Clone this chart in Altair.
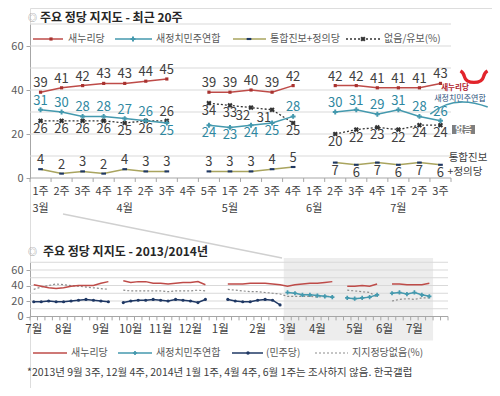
import altair as alt
import pandas as pd

# ---------------- data: recent 20 weeks (2014) ----------------
weeks_top = ["3월 1주", "3월 2주", "3월 3주", "3월 4주",
             "4월 1주", "4월 2주", "4월 3주", "4월 4주", "4월 5주",
             "5월 1주", "5월 2주", "5월 3주", "5월 4주",
             "6월 1주", "6월 2주", "6월 3주", "6월 4주",
             "7월 1주", "7월 2주", "7월 3주"]
saenuri = [39, 41, 42, 43, 43, 44, 45, None, 39, 39, 40, 39, 42, None, 42, 42, 41, 41, 41, 43]
npad = [31, 30, 28, 28, 27, 26, 25, None, 24, 23, 24, 25, 28, None, 30, 31, 29, 31, 28, 26]
progressive = [4, 2, 3, 2, 4, 3, 3, None, 3, 3, 3, 4, 5, None, 7, 6, 7, 6, 7, 6]
undecided = [26, 26, 26, 26, 25, 26, 26, None, 34, 33, 32, 31, 25, None, 20, 22, 23, 22, 24, 24]

# which value labels sit on the other side of their point (by week index)
npad_label_below = [6, 8, 9, 10, 11]
undecided_label_above = [6]
undecided_label_left = [10, 11]
progressive_label_below = [14, 15, 16, 17, 18, 19]

# ---------------- data: 2013/2014 weekly (Jul 2013 - Feb 2014) ----------------
months_long = ["7월", "8월", "9월", "10월", "11월", "12월", "1월", "2월", "3월", "4월", "5월", "6월", "7월"]
weeks_in_month = [4, 5, 4, 4, 4, 4, 5, 4, 4, 5, 4, 4, 3]
extra_weeks = 2
saenuri_early = [41, 39, 37, 36, 37, 39, 40, 40, 40, 43, 45, None,
                 46, 44, 45, 45, 43, 43, 42, 43, 44, 44, 45, 41, None, None,
                 42, 42, 42, 43, 43, 43, 42, 41]
minjoo_early = [19, 19, 20, 19, 19, 20, 21, 22, 21, 20, 19, None,
                18, 20, 21, 21, 22, 21, 20, 22, 21, 20, 18, 22, None, None,
                22, 20, 19, 19, 21, 22, 21, 15]
undecided_early = [35, 38, 40, 42, 41, 40, 39, 38, 37, 36, 35, None,
                   34, 33, 33, 33, 33, 33, 32, 33, 33, 33, 34, 33, None, None,
                   35, 34, 33, 32, 32, 31, 30, 29]

grid_values = [10, 20, 30, 40, 50, 60, 70]
axis_label_values = [0, 20, 40, 60]

FONT = "Noto Sans CJK KR"
RED = "#BE4B48"
RED_DOT = "#A8322F"
TEAL = "#4499AE"
TEAL_TXT = "#2E87A0"
NAVY = "#1F3864"
OLIVE = "#A9A45E"
DARK = "#404040"
GRID = "#D9D9D9"
AXC = "#A6A6A6"
LEG = "#595959"

one = pd.DataFrame({"k": [0]})


def series_df(values):
    rows, seg = [], 0
    for i, v in enumerate(values):
        if v is None:
            seg += 1
            continue
        rows.append({"i": i, "v": v, "seg": seg})
    return pd.DataFrame(rows)


def txt(x, y, text, size=10, color=LEG, align="left", weight="normal", baseline="middle"):
    return alt.Chart(one).mark_text(text=text, fontSize=size, color=color, align=align,
                                    fontWeight=weight, baseline=baseline, font=FONT).encode(
        x=alt.value(x), y=alt.value(y))


def hline(x0, x1, y, color, width=1.5, dash=None):
    kw = dict(color=color, strokeWidth=width)
    if dash:
        kw["strokeDash"] = dash
    return alt.Chart(one).mark_rule(**kw).encode(x=alt.value(x0), x2=alt.value(x1), y=alt.value(y))


def marker(x, y, color, shape, size, angle=0, filled=True, width=1):
    return alt.Chart(one).mark_point(shape=shape, size=size, color=color, filled=filled,
                                     angle=angle, opacity=1, strokeWidth=width).encode(
        x=alt.value(x), y=alt.value(y))


BAR = "M-1,-0.45L1,-0.45L1,0.45L-1,0.45Z"

XT = alt.Scale(domain=[-0.5, 19.5], range=[0, 421], nice=False, zero=False)
YT = alt.Scale(domain=[0, 70], range=[170, 16], nice=False, zero=False)
YB = alt.Scale(domain=[0, 70], range=[308.5, 254.25], nice=False, zero=False)


def X(f, sc):
    return alt.X(f"{f}:Q", scale=sc, axis=None)


def Y(f, sc):
    return alt.Y(f"{f}:Q", scale=sc, axis=None)


def yaxis_grid(ysc, xsc, x0, x1):
    df = pd.DataFrame({"g": grid_values, "x0": x0, "x1": x1})
    return alt.Chart(df).mark_rule(color=GRID, strokeWidth=1).encode(
        y=alt.Y("g:Q", scale=ysc, axis=alt.Axis(values=axis_label_values, orient="left", grid=False,
                                                domainColor=AXC, tickColor=AXC, tickSize=4,
                                                labelColor=LEG, labelFontSize=11, labelFont=FONT,
                                                labelPadding=3, title=None)),
        x=X("x0", xsc), x2="x1:Q")


layers = []

# ============================ TOP PANEL ============================
layers.append(yaxis_grid(YT, XT, -0.5, 19.5))
layers.append(alt.Chart(pd.DataFrame({"x0": [-0.5], "x1": [19.5], "y0": [0]})).mark_rule(color=AXC).encode(
    x=X("x0", XT), x2="x1:Q", y=Y("y0", YT)))
layers.append(alt.Chart(pd.DataFrame({"t": [k - 0.5 for k in range(21)], "y0": 0.0, "y1": -1.8})).mark_rule(
    color=AXC).encode(x=X("t", XT), y=Y("y0", YT), y2="y1:Q"))

wk_top = pd.DataFrame({"i": range(len(weeks_top)),
                       "m": [w.split(" ")[0] for w in weeks_top],
                       "w": [w.split(" ")[1] for w in weeks_top]})
layers.append(alt.Chart(wk_top).mark_text(fontSize=11, color=DARK, font=FONT).encode(
    x=X("i", XT), y=alt.value(184), text="w:N"))
layers.append(alt.Chart(wk_top[wk_top["w"] == "1주"]).mark_text(fontSize=11, color=DARK, font=FONT).encode(
    x=X("i", XT), y=alt.value(201), text="m:N"))

d_sae = series_df(saenuri)
d_np = series_df(npad)
d_pr = series_df(progressive)
d_un = series_df(undecided)


def xt():
    return X("i", XT)


def yt():
    return Y("v", YT)


layers += [
    alt.Chart(d_pr).mark_line(color=OLIVE, strokeWidth=1.5).encode(x=xt(), y=yt(), detail="seg:N"),
    alt.Chart(d_pr).mark_point(shape=BAR, size=22, filled=True, color=NAVY, opacity=1).encode(x=xt(), y=yt()),
    alt.Chart(d_un).mark_line(color="#333333", strokeWidth=1.3, strokeDash=[2, 2]).encode(x=xt(), y=yt(), detail="seg:N"),
    alt.Chart(d_un).mark_point(shape="cross", angle=45, size=28, filled=True, color="#333333", opacity=1).encode(x=xt(), y=yt()),
    alt.Chart(d_np).mark_line(color=TEAL, strokeWidth=1.5).encode(x=xt(), y=yt(), detail="seg:N"),
    alt.Chart(d_np).mark_point(shape="cross", size=24, filled=True, color=TEAL, opacity=1).encode(x=xt(), y=yt()),
    alt.Chart(d_sae).mark_line(color=RED, strokeWidth=1.5).encode(x=xt(), y=yt(), detail="seg:N"),
    alt.Chart(d_sae).mark_point(shape="square", size=10, filled=True, color=RED_DOT, opacity=1).encode(x=xt(), y=yt()),
]

d_sae["above"] = True
d_np["above"] = [i not in npad_label_below for i in d_np["i"]]
d_un["above"] = [i in undecided_label_above for i in d_un["i"]]
d_pr["above"] = [i not in progressive_label_below for i in d_pr["i"]]
for d in (d_sae, d_np, d_pr):
    d["left"] = False
d_un["left"] = [i in undecided_label_left for i in d_un["i"]]


def labels(df, color):
    out = []
    for above in (True, False):
        for left in (False, True):
            sub = df[(df["above"] == above) & (df["left"] == left)]
            if not len(sub):
                continue
            kw = dict(baseline="alphabetic", dy=-5) if above else dict(baseline="top", dy=2)
            out.append(alt.Chart(sub).mark_text(fontSize=13, color=color, font=FONT, dx=-8 if left else 0, **kw).encode(
                x=xt(), y=yt(), text="v:Q"))
    return out


layers += labels(d_sae, DARK) + labels(d_np, TEAL_TXT) + labels(d_un, DARK) + labels(d_pr, DARK)

# title
layers += [txt(-2, 9.5, "◎", size=9, color="#7F7F7F"),
           txt(10, 9.5, "주요 정당 지지도 - 최근 20주", size=12, color="#262626", weight="bold")]

# legend (inside plot, between the 60 and 70 grid lines)
LY = 31
layers += [
    hline(3, 33, LY, RED), marker(21, LY, RED_DOT, "square", 10), txt(38, LY, "새누리당"),
    hline(85, 122, LY, TEAL), marker(103, LY, TEAL, "cross", 24), txt(126, LY, "새정치민주연합"),
    hline(203, 236, LY, OLIVE), marker(219, LY, NAVY, BAR, 22), txt(240, LY, "통합진보+정의당"),
    hline(316, 350, LY, "#333333", 1.3, [2, 2]), marker(333, LY, "#333333", "cross", 28, angle=45),
    txt(354, LY, "없음/유보(%)"),
]

# right side annotations
LOGO = "M-1,-0.45 Q-0.75,-0.3 -0.7,0 Q-0.6,0.4 0,0.4 Q0.6,0.4 0.7,0 Q0.75,-0.3 1,-0.45"
ARC = "M-1,0.25 Q-0.2,-0.45 1,0"
layers += [
    marker(444, 69, "#E2242B", LOGO, 730, filled=False, width=3.2),
    txt(425, 80, "새누리당", size=7.5, color="#B0202A", align="center", weight="bold"),
    txt(430, 90.5, "새정치민주연합", size=8, color="#1F4E79", align="center"),
    marker(429, 99, TEAL, ARC, 3300, filled=False, width=1.5),
    alt.Chart(one).mark_rect(color="#7F7F7F").encode(x=alt.value(422), x2=alt.value(445),
                                                      y=alt.value(117), y2=alt.value(126)),
    txt(433.5, 121.5, "없음", size=9, color="white", align="center", weight="bold"),
    txt(438, 149.5, "통합진보", size=10.5, color=DARK, align="center"),
    txt(435, 163.5, "+정의당", size=10.5, color=DARK, align="center"),
]

# ============================ BOTTOM PANEL ============================
wk_rows, idx = [], 0
for m, n in zip(months_long, weeks_in_month):
    for w in range(1, n + 1):
        wk_rows.append({"i": idx, "m": m, "w": w})
        idx += 1
wk_long = pd.DataFrame(wk_rows)
n_weeks = idx + extra_weeks

XB = alt.Scale(domain=[-0.5, n_weeks - 0.5], range=[0, 418], nice=False, zero=False)


def xb():
    return X("i", XB)


def yb():
    return Y("v", YB)


n_early = len(saenuri_early)
b_sae = series_df(saenuri_early + saenuri)
b_np = series_df([None] * n_early + npad)
b_mj = series_df(minjoo_early + [None] * len(weeks_top))
b_un = series_df(undecided_early + undecided)

mar_start = int(wk_long[(wk_long["m"] == "3월") & (wk_long["w"] == 1)]["i"].iloc[0])
last_i = idx - 1

layers.append(alt.Chart(pd.DataFrame({"x0": [mar_start - 0.5], "x1": [last_i + 0.5],
                                      "y0": [75.5], "y1": [-31.0]})).mark_rect(color="#EDEDED").encode(
    x=X("x0", XB), x2="x1:Q", y=Y("y0", YB), y2="y1:Q"))
layers.append(yaxis_grid(YB, XB, -0.5, n_weeks - 0.5))
layers.append(alt.Chart(pd.DataFrame({"x0": [-0.5], "x1": [n_weeks - 0.5], "y0": [0]})).mark_rule(color=AXC).encode(
    x=X("x0", XB), x2="x1:Q", y=Y("y0", YB)))
layers.append(alt.Chart(pd.DataFrame({"t": [k - 0.5 for k in range(n_weeks + 1)], "y0": 0.0, "y1": -5.0})).mark_rule(
    color=AXC).encode(x=X("t", XB), y=Y("y0", YB), y2="y1:Q"))
layers.append(alt.Chart(wk_long[wk_long["w"] == 1]).mark_text(fontSize=11.5, color=DARK, font=FONT).encode(
    x=xb(), y=alt.value(322), text="m:N"))

layers += [
    alt.Chart(b_un).mark_line(color="#8C8C8C", strokeWidth=1.2, strokeDash=[2, 2]).encode(x=xb(), y=yb(), detail="seg:N"),
    alt.Chart(b_mj).mark_line(color=NAVY, strokeWidth=1.5).encode(x=xb(), y=yb(), detail="seg:N"),
    alt.Chart(b_mj).mark_point(shape="circle", size=10, filled=True, color=NAVY, opacity=1).encode(x=xb(), y=yb()),
    alt.Chart(b_np).mark_line(color=TEAL, strokeWidth=1.5).encode(x=xb(), y=yb(), detail="seg:N"),
    alt.Chart(b_np).mark_point(shape="cross", size=18, filled=True, color=TEAL, opacity=1).encode(x=xb(), y=yb()),
    alt.Chart(b_sae).mark_line(color=RED, strokeWidth=1.5).encode(x=xb(), y=yb(), detail="seg:N"),
]

layers += [txt(-2, 244, "◎", size=9, color="#7F7F7F"),
           txt(13, 244, "주요 정당 지지도 - 2013/2014년", size=12, color="#262626", weight="bold")]

# callout line from the top panel to the highlighted period
layers.append(alt.Chart(one).mark_rule(color="#D0D0D0", strokeWidth=1.5).encode(
    x=alt.value(33), y=alt.value(206), x2=alt.value(252), y2=alt.value(250)))

BY = 345
layers += [
    hline(3, 37, BY, RED), txt(41, BY, "새누리당"),
    hline(88, 122, BY, TEAL), marker(105, BY, TEAL, "cross", 18), txt(126, BY, "새정치민주연합"),
    hline(202, 233, BY, NAVY), marker(218, BY, NAVY, "circle", 12), txt(236, BY, "(민주당)"),
    hline(285, 318, BY, "#8C8C8C", 1.2, [2, 2]), txt(322, BY, "지지정당없음(%)"),
    txt(-3, 365, "*2013년 9월 3주, 12월 4주, 2014년 1월 1주, 4월 4주, 6월 1주는 조사하지 않음. 한국갤럽",
        size=10.5, color=DARK),
]

chart = alt.layer(*layers).resolve_scale(x="independent", y="independent").properties(
    width=462, height=380,
    padding={"left": 22, "top": 0, "right": 0, "bottom": 0},
    autosize=alt.AutoSizeParams(type="none"),
    background="white",
).configure_view(stroke=None).configure(font=FONT)

chart.save("out.html", embed_options={"renderer": "svg", "actions": False})
